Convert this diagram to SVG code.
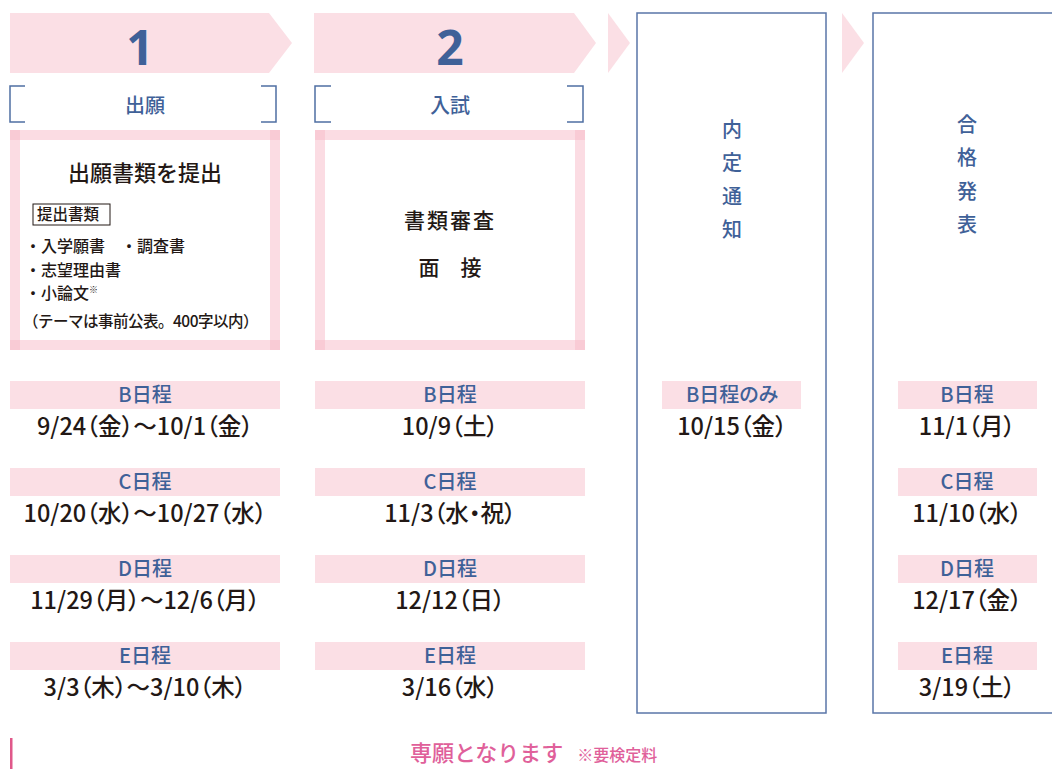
<svg xmlns="http://www.w3.org/2000/svg" width="1052" height="769" viewBox="0 0 1052 769">
<style>
text{font-family:"Noto Sans CJK JP","Noto Sans",sans-serif;}
.num{font-family:"Noto Sans","Noto Sans CJK JP",sans-serif;font-weight:700;font-size:48px;fill:#3f6198;text-anchor:middle;}
.brk{fill:none;stroke:#4f6fa3;stroke-width:1.5;}
.blue{fill:#3f6198;text-anchor:middle;font-weight:500;}
.dark{fill:#231815;font-weight:500;}
.lbl{fill:#fbdfe5;}
.band{fill:#f8b9c7;opacity:0.5;}
.sch{fill:#3f6198;font-size:20px;text-anchor:middle;font-weight:500;font-feature-settings:"palt";}
.date{fill:#231815;font-size:23.5px;text-anchor:middle;font-weight:500;font-feature-settings:"palt";}
.arrow{fill:#fbdfe5;}
.box{fill:none;stroke:#5a76a8;stroke-width:1.5;}
.vt{fill:#3f6198;font-size:20px;text-anchor:middle;font-weight:500;}
</style>
<rect width="1052" height="769" fill="#fff"/>
<g id="connectors">
<polygon class="arrow" points="608,13 630,43 608,73"/>
<polygon class="arrow" points="842,13 864,43 842,73"/>
</g>
<g id="step1">
<polygon class="arrow" points="10,13 269,13 292,43 269,73 10,73"/>
<text class="num" x="140" y="65">1</text>
<path class="brk" d="M25,86 H10 V122 H25 M261,86 H276 V122 H261"/>
<text class="blue" x="145" y="113" font-size="20">出願</text>
</g>
<g id="box1">
<rect class="band" x="10" y="130" width="270" height="10"/>
<rect class="band" x="10" y="340" width="270" height="10"/>
<rect class="band" x="10" y="130" width="10" height="220"/>
<rect class="band" x="270" y="130" width="10" height="220"/>
<text class="dark" x="145" y="181" font-size="22" text-anchor="middle">出願書類を提出</text>
<rect x="33" y="204" width="77" height="21" fill="none" stroke="#231815" stroke-width="1"/>
<text class="dark" x="37" y="220" font-size="15.5">提出書類</text>
<text class="dark" x="25" y="252" font-size="16">・入学願書　・調査書</text>
<text class="dark" x="25" y="276" font-size="16">・志望理由書</text>
<text class="dark" x="25" y="299" font-size="16">・小論文<tspan font-size="9" dy="-6">※</tspan></text>
<text class="dark" x="23" y="327" font-size="15.5" letter-spacing="-0.5">（テーマは事前公表。400字以内）</text>
</g>
<g id="step2">
<polygon class="arrow" points="314,13 574,13 596,43 574,73 314,73"/>
<text class="num" x="450" y="65">2</text>
<path class="brk" d="M331,86 H315 V122 H331 M567,86 H583 V122 H567"/>
<text class="blue" x="450" y="113" font-size="20">入試</text>
</g>
<g id="box2">
<rect class="band" x="315" y="130" width="270" height="10"/>
<rect class="band" x="315" y="340" width="270" height="10"/>
<rect class="band" x="315" y="130" width="10" height="220"/>
<rect class="band" x="575" y="130" width="10" height="220"/>
<text class="dark" x="450" y="228" font-size="21" text-anchor="middle" letter-spacing="2">書類審査</text>
<text class="dark" x="450" y="275" font-size="21" text-anchor="middle">面　接</text>
</g>
<g id="col1">
<rect class="lbl" x="10" y="381" width="270" height="28"/>
<text class="sch" x="145" y="402">B日程</text>
<text class="date" x="145" y="435">9/24（金）～10/1（金）</text>
<rect class="lbl" x="10" y="468" width="270" height="28"/>
<text class="sch" x="145" y="489">C日程</text>
<text class="date" x="145" y="522">10/20（水）～10/27（水）</text>
<rect class="lbl" x="10" y="555" width="270" height="28"/>
<text class="sch" x="145" y="576">D日程</text>
<text class="date" x="145" y="609">11/29（月）～12/6（月）</text>
<rect class="lbl" x="10" y="642" width="270" height="28"/>
<text class="sch" x="145" y="663">E日程</text>
<text class="date" x="145" y="696">3/3（木）～3/10（木）</text>
</g>
<g id="col2">
<rect class="lbl" x="315" y="381" width="270" height="28"/>
<text class="sch" x="450" y="402">B日程</text>
<text class="date" x="450" y="435">10/9（土）</text>
<rect class="lbl" x="315" y="468" width="270" height="28"/>
<text class="sch" x="450" y="489">C日程</text>
<text class="date" x="450" y="522">11/3（水・祝）</text>
<rect class="lbl" x="315" y="555" width="270" height="28"/>
<text class="sch" x="450" y="576">D日程</text>
<text class="date" x="450" y="609">12/12（日）</text>
<rect class="lbl" x="315" y="642" width="270" height="28"/>
<text class="sch" x="450" y="663">E日程</text>
<text class="date" x="450" y="696">3/16（水）</text>
</g>
<g id="step3">
<rect class="box" x="637" y="13" width="189" height="700"/>
<text class="vt" x="732" y="137">内</text>
<text class="vt" x="732" y="170">定</text>
<text class="vt" x="732" y="204">通</text>
<text class="vt" x="732" y="237">知</text>
<rect class="lbl" x="662" y="381" width="139" height="28"/>
<text class="sch" x="732" y="402">B日程のみ</text>
<text class="date" x="732" y="435">10/15（金）</text>
</g>
<g id="step4">
<rect class="box" x="873" y="13" width="200" height="700"/>
<text class="vt" x="967" y="132">合</text>
<text class="vt" x="967" y="165">格</text>
<text class="vt" x="967" y="199">発</text>
<text class="vt" x="967" y="232">表</text>
<rect class="lbl" x="898" y="381" width="139" height="28"/>
<text class="sch" x="967" y="402">B日程</text>
<text class="date" x="967" y="435">11/1（月）</text>
<rect class="lbl" x="898" y="468" width="139" height="28"/>
<text class="sch" x="967" y="489">C日程</text>
<text class="date" x="967" y="522">11/10（水）</text>
<rect class="lbl" x="898" y="555" width="139" height="28"/>
<text class="sch" x="967" y="576">D日程</text>
<text class="date" x="967" y="609">12/17（金）</text>
<rect class="lbl" x="898" y="642" width="139" height="28"/>
<text class="sch" x="967" y="663">E日程</text>
<text class="date" x="967" y="696">3/19（土）</text>
</g>
<g id="note">
<rect x="10" y="738" width="2.5" height="31" fill="#e0588a"/>
<text x="410" y="761" font-size="22" fill="#e0609a" font-weight="500">専願となります<tspan font-size="16" dx="14">※要検定料</tspan></text>
</g>
</svg>
